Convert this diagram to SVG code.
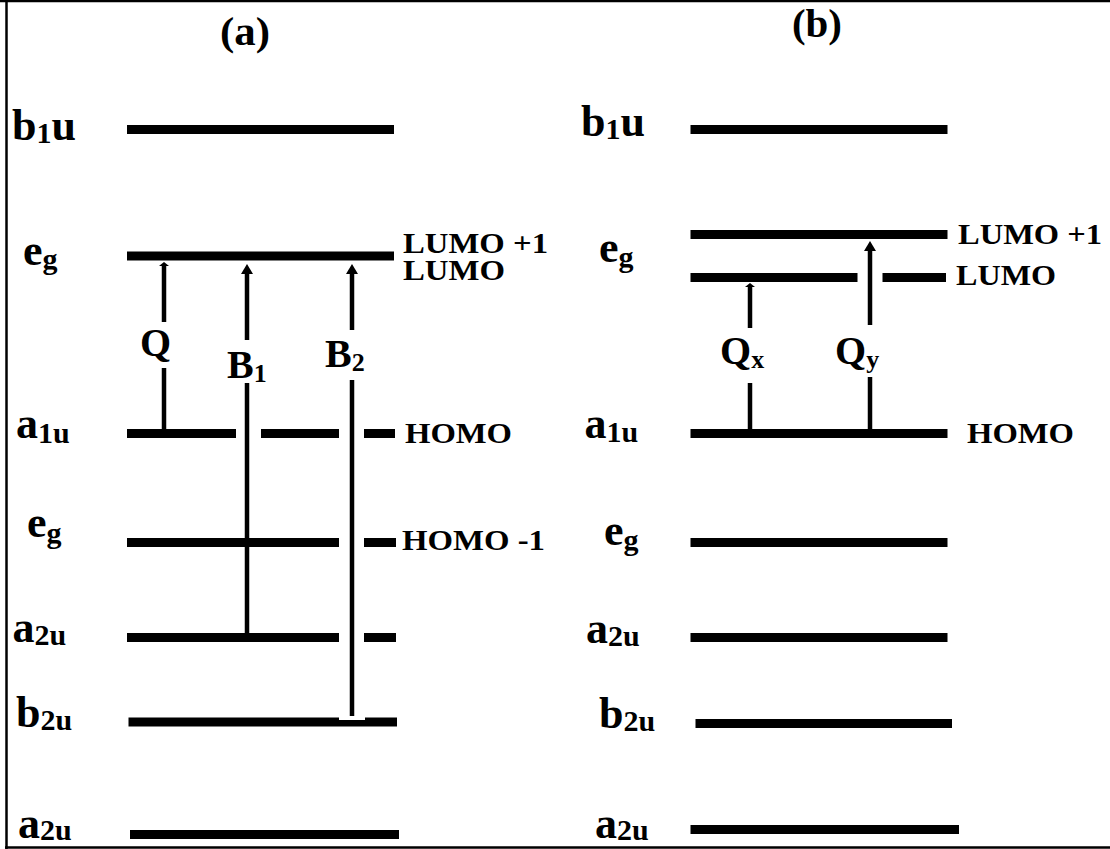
<svg xmlns="http://www.w3.org/2000/svg" width="1110" height="849" viewBox="0 0 1110 849">
<defs>
<style>
.frame{stroke:#000;stroke-width:2.5;fill:none}
.lvl{stroke:#000;stroke-width:9;stroke-linecap:butt}
.tr{stroke:#000;stroke-width:4.5;stroke-linecap:butt}
text{font-family:"Liberation Serif","Times New Roman",serif;font-weight:bold;fill:#000}
.title{font-size:40px}
.sym{font-size:44px}
.sub{font-size:30px}
.tag{font-size:29px}
.tl{font-size:40px}
.tsub{font-size:26px}
</style>
<marker id="head" viewBox="0 -6 10 12" refX="4" refY="0" markerWidth="10" markerHeight="12" markerUnits="userSpaceOnUse" orient="auto">
<path d="M0,-6 L10,0 L0,6 z" fill="#000"/>
</marker>
<marker id="headS" viewBox="0 -5 4 10" refX="1" refY="0" markerWidth="4" markerHeight="10" markerUnits="userSpaceOnUse" orient="auto">
<path d="M0,-5 L4,0 L0,5 z" fill="#000"/>
</marker>
</defs>
<rect width="1110" height="849" fill="#fff"/>
<g id="frame">
<line class="frame" x1="0" y1="1" x2="1110" y2="1"/>
<line class="frame" x1="6.5" y1="0" x2="6.5" y2="849"/>
<line class="frame" x1="5" y1="847.5" x2="1110" y2="847.5"/>
</g>
<g id="titles">
<text class="title" x="245" y="45" text-anchor="middle" textLength="50" lengthAdjust="spacingAndGlyphs">(a)</text>
<text class="title" x="817" y="37" text-anchor="middle" textLength="50" lengthAdjust="spacingAndGlyphs">(b)</text>
</g>
<g id="panel-a">
<g id="a-b1u">
<line class="lvl" x1="127" y1="129.5" x2="394" y2="129.5"/>
<text class="sym" x="12" y="140">b<tspan class="sub" dy="3">1</tspan><tspan dy="-3">u</tspan></text>
</g>
<g id="a-eg-lumo">
<line class="lvl" x1="127" y1="256" x2="394" y2="256"/>
<text class="sym" x="23" y="265">e<tspan class="sub" dy="4">g</tspan></text>
<text class="tag" x="403" y="253" textLength="145" lengthAdjust="spacingAndGlyphs">LUMO +1</text>
<text class="tag" x="403" y="280" textLength="102" lengthAdjust="spacingAndGlyphs">LUMO</text>
</g>
<g id="a-a1u-homo">
<line class="lvl" x1="127" y1="433.5" x2="236" y2="433.5"/>
<line class="lvl" x1="261" y1="433.5" x2="339" y2="433.5"/>
<line class="lvl" x1="364" y1="433.5" x2="395" y2="433.5"/>
<text class="sym" x="16" y="438">a<tspan class="sub" dy="5">1u</tspan></text>
<text class="tag" x="405" y="443" textLength="107" lengthAdjust="spacingAndGlyphs">HOMO</text>
</g>
<g id="a-eg-homo1">
<line class="lvl" x1="127" y1="542.5" x2="339" y2="542.5"/>
<line class="lvl" x1="364" y1="542.5" x2="396" y2="542.5"/>
<text class="sym" x="27" y="537">e<tspan class="sub" dy="6">g</tspan></text>
<text class="tag" x="402" y="550" textLength="143" lengthAdjust="spacingAndGlyphs">HOMO -1</text>
</g>
<g id="a-a2u">
<line class="lvl" x1="127" y1="637.5" x2="339" y2="637.5"/>
<line class="lvl" x1="364" y1="637.5" x2="396" y2="637.5"/>
<text class="sym" x="12.5" y="642">a<tspan class="sub" dy="3">2u</tspan></text>
</g>
<g id="a-b2u">
<line class="lvl" x1="128.5" y1="722" x2="339" y2="722"/>
<line class="lvl" x1="365" y1="722" x2="397" y2="722"/>
<rect x="339" y="720" width="26" height="6.5" fill="#000"/>
<text class="sym" x="16" y="727">b<tspan class="sub" dy="3">2u</tspan></text>
</g>
<g id="a-a2u-low">
<line class="lvl" x1="130" y1="834.5" x2="399" y2="834.5"/>
<text class="sym" x="18" y="838">a<tspan class="sub" dy="2">2u</tspan></text>
</g>
</g>
<g id="panel-b">
<g id="b-b1u">
<line class="lvl" x1="690.5" y1="129.5" x2="947.5" y2="129.5"/>
<text class="sym" x="581" y="136">b<tspan class="sub" dy="3">1</tspan><tspan dy="-3">u</tspan></text>
</g>
<g id="b-lumo1">
<line class="lvl" x1="690.5" y1="234.5" x2="947.5" y2="234.5"/>
<text class="tag" x="958" y="244" textLength="144" lengthAdjust="spacingAndGlyphs">LUMO +1</text>
</g>
<g id="b-eg-label">
<text class="sym" x="599" y="262">e<tspan class="sub" dy="5">g</tspan></text>
</g>
<g id="b-lumo">
<line class="lvl" x1="690.5" y1="277.5" x2="857.5" y2="277.5"/>
<line class="lvl" x1="882.5" y1="277.5" x2="946" y2="277.5"/>
<text class="tag" x="956" y="285" textLength="100" lengthAdjust="spacingAndGlyphs">LUMO</text>
</g>
<g id="b-a1u-homo">
<line class="lvl" x1="690.5" y1="433.5" x2="947.5" y2="433.5"/>
<text class="sym" x="584.5" y="438">a<tspan class="sub" dy="4">1u</tspan></text>
<text class="tag" x="967" y="443" textLength="107" lengthAdjust="spacingAndGlyphs">HOMO</text>
</g>
<g id="b-eg">
<line class="lvl" x1="690.5" y1="542.5" x2="947.5" y2="542.5"/>
<text class="sym" x="604" y="545">e<tspan class="sub" dy="5">g</tspan></text>
</g>
<g id="b-a2u">
<line class="lvl" x1="690.5" y1="637.5" x2="947.5" y2="637.5"/>
<text class="sym" x="586" y="643">a<tspan class="sub" dy="3">2u</tspan></text>
</g>
<g id="b-b2u">
<line class="lvl" x1="695.5" y1="723.5" x2="952" y2="723.5"/>
<text class="sym" x="599" y="728">b<tspan class="sub" dy="3">2u</tspan></text>
</g>
<g id="b-a2u-low">
<line class="lvl" x1="690.5" y1="829.5" x2="959" y2="829.5"/>
<text class="sym" x="595" y="838">a<tspan class="sub" dy="2">2u</tspan></text>
</g>
</g>
<g id="connectors">
<line class="tr" x1="164" y1="322" x2="164" y2="265" marker-end="url(#headS)"/>
<line class="tr" x1="164" y1="429" x2="164" y2="368"/>
<line class="tr" x1="247" y1="340" x2="247" y2="270" marker-end="url(#head)"/>
<line class="tr" x1="247" y1="633" x2="247" y2="383"/>
<line class="tr" x1="352" y1="330" x2="352" y2="270" marker-end="url(#head)"/>
<line class="tr" x1="352" y1="716" x2="352" y2="380"/>
<line class="tr" x1="750" y1="328" x2="750" y2="286" marker-end="url(#headS)"/>
<line class="tr" x1="750" y1="429" x2="750" y2="383"/>
<line class="tr" x1="870" y1="325" x2="870" y2="247" marker-end="url(#head)"/>
<line class="tr" x1="870" y1="429" x2="870" y2="377"/>
</g>
<g id="transition-labels">
<text class="tl" x="140" y="356">Q</text>
<text class="tl" x="227" y="378">B<tspan class="tsub" dy="4">1</tspan></text>
<text class="tl" x="325" y="367">B<tspan class="tsub" dy="4">2</tspan></text>
<text class="tl" x="720" y="364">Q<tspan class="tsub" dy="4">x</tspan></text>
<text class="tl" x="835" y="364">Q<tspan class="tsub" dy="4">y</tspan></text>
</g>
</svg>
